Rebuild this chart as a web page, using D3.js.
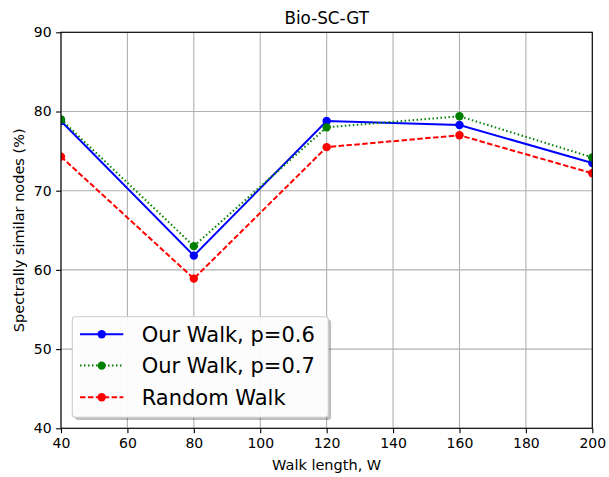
<!DOCTYPE html>
<html lang="en">
<head>
<meta charset="utf-8" />
<title>Bio-SC-GT</title>
<script src="https://cdn.jsdelivr.net/npm/d3@7"></script>
<style>
    body { margin: 0; background: #fff; }
    svg { display: block; font-family: "DejaVu Sans", sans-serif; }
</style>
</head>
<body>
<svg id="chart"></svg>
<script>
// Values
const walkLengths = [40, 80, 120, 160, 200];
const ourWalk06 = [78.8, 61.8, 78.8, 78.3, 73.5];
const ourWalk07 = [79.0, 63.0, 78.0, 79.4, 74.2];
const randomWalk = [74.3, 58.9, 75.5, 77.0, 72.2];
const xTicks = [40, 60, 80, 100, 120, 140, 160, 180, 200];
const yTicks = [40, 50, 60, 70, 80, 90];

const series = [
    { name: "Our Walk, p=0.6", values: ourWalk06, color: "#0000ff", dash: null },
    { name: "Our Walk, p=0.7", values: ourWalk07, color: "#008000", dash: "1.5,2.5" },
    { name: "Random Walk", values: randomWalk, color: "#ff0000", dash: "5.5,2.4" }
];

const width = 609, height = 477;
const plot = { left: 61, top: 32.3, right: 592.3, bottom: 428.3 };

const svg = d3.select("#chart").attr("width", width).attr("height", height);

const x = d3.scaleLinear().domain([40, 200]).range([plot.left, plot.right]);
const y = d3.scaleLinear().domain([40, 90]).range([plot.bottom, plot.top]);

// grid lines
const grid = svg.append("g").attr("stroke", "#b0b0b0").attr("stroke-width", 1.1);
grid.selectAll("line.gx").data(xTicks).enter().append("line")
    .attr("x1", d => x(d)).attr("x2", d => x(d))
    .attr("y1", plot.top).attr("y2", plot.bottom);
grid.selectAll("line.gy").data(yTicks).enter().append("line")
    .attr("x1", plot.left).attr("x2", plot.right)
    .attr("y1", d => y(d)).attr("y2", d => y(d));

// clip region for lines and markers
svg.append("clipPath").attr("id", "clip").append("rect")
    .attr("x", plot.left).attr("y", plot.top)
    .attr("width", plot.right - plot.left).attr("height", plot.bottom - plot.top);

const line = d3.line().x((d, i) => x(walkLengths[i])).y(d => y(d));
const marks = svg.append("g").attr("clip-path", "url(#clip)");

series.forEach(s => {
    marks.append("path")
        .attr("d", line(s.values))
        .attr("fill", "none")
        .attr("stroke", s.color)
        .attr("stroke-width", 2)
        .attr("stroke-dasharray", s.dash);
    marks.selectAll(null).data(s.values).enter().append("circle")
        .attr("cx", (d, i) => x(walkLengths[i]))
        .attr("cy", d => y(d))
        .attr("r", 4.2)
        .attr("fill", s.color);
});

// axes
const xAxis = d3.axisBottom(x).tickValues(xTicks).tickSize(4.9).tickPadding(4.5);
const yAxis = d3.axisLeft(y).tickValues(yTicks).tickSize(4.9).tickPadding(4.5);

const gx = svg.append("g").attr("transform", `translate(0,${plot.bottom})`).call(xAxis);
const gy = svg.append("g").attr("transform", `translate(${plot.left},0)`).call(yAxis);
[gx, gy].forEach(g => {
    g.select(".domain").remove();
    g.selectAll("line").attr("stroke", "#000").attr("stroke-width", 1.1);
    g.selectAll("text").attr("fill", "#000").style("font-size", "14px")
        .style("font-family", "DejaVu Sans");
});

// spines
svg.append("rect")
    .attr("x", plot.left).attr("y", plot.top)
    .attr("width", plot.right - plot.left).attr("height", plot.bottom - plot.top)
    .attr("fill", "none").attr("stroke", "#000").attr("stroke-width", 1.1);

// title and labels
svg.append("text").attr("x", (plot.left + plot.right) / 2).attr("y", 24)
    .attr("text-anchor", "middle").style("font-size", "16.8px").text("Bio-SC-GT");
svg.append("text").attr("x", (plot.left + plot.right) / 2).attr("y", 470)
    .attr("text-anchor", "middle").style("font-size", "14.5px").text("Walk length, W");
svg.append("text")
    .attr("transform", `translate(24,${(plot.top + plot.bottom) / 2}) rotate(-90)`)
    .attr("text-anchor", "middle").style("font-size", "14.5px")
    .text("Spectrally similar nodes (%)");

// legend
const lg = { x: 72.3, y: 316.7, w: 256, h: 100.6 };
const legend = svg.append("g");
legend.append("rect")
    .attr("x", lg.x + 2.8).attr("y", lg.y + 2.8).attr("width", lg.w).attr("height", lg.h)
    .attr("rx", 3).attr("fill", "#000").attr("fill-opacity", 0.25);
legend.append("rect")
    .attr("x", lg.x).attr("y", lg.y).attr("width", lg.w).attr("height", lg.h)
    .attr("rx", 3).attr("fill", "#fff").attr("fill-opacity", 0.95)
    .attr("stroke", "#cccccc").attr("stroke-width", 1.1);

const rowY = [334.3, 365.6, 397.3];
series.forEach((s, i) => {
    const cy = rowY[i];
    legend.append("line")
        .attr("x1", 80).attr("x2", 123.3).attr("y1", cy).attr("y2", cy)
        .attr("stroke", s.color).attr("stroke-width", 2)
        .attr("stroke-dasharray", s.dash);
    legend.append("circle").attr("cx", 101.7).attr("cy", cy).attr("r", 4.2).attr("fill", s.color);
    legend.append("text").attr("x", 141.7).attr("y", cy + 7.6)
        .style("font-size", "21px").text(s.name);
});
</script>
</body>
</html>
